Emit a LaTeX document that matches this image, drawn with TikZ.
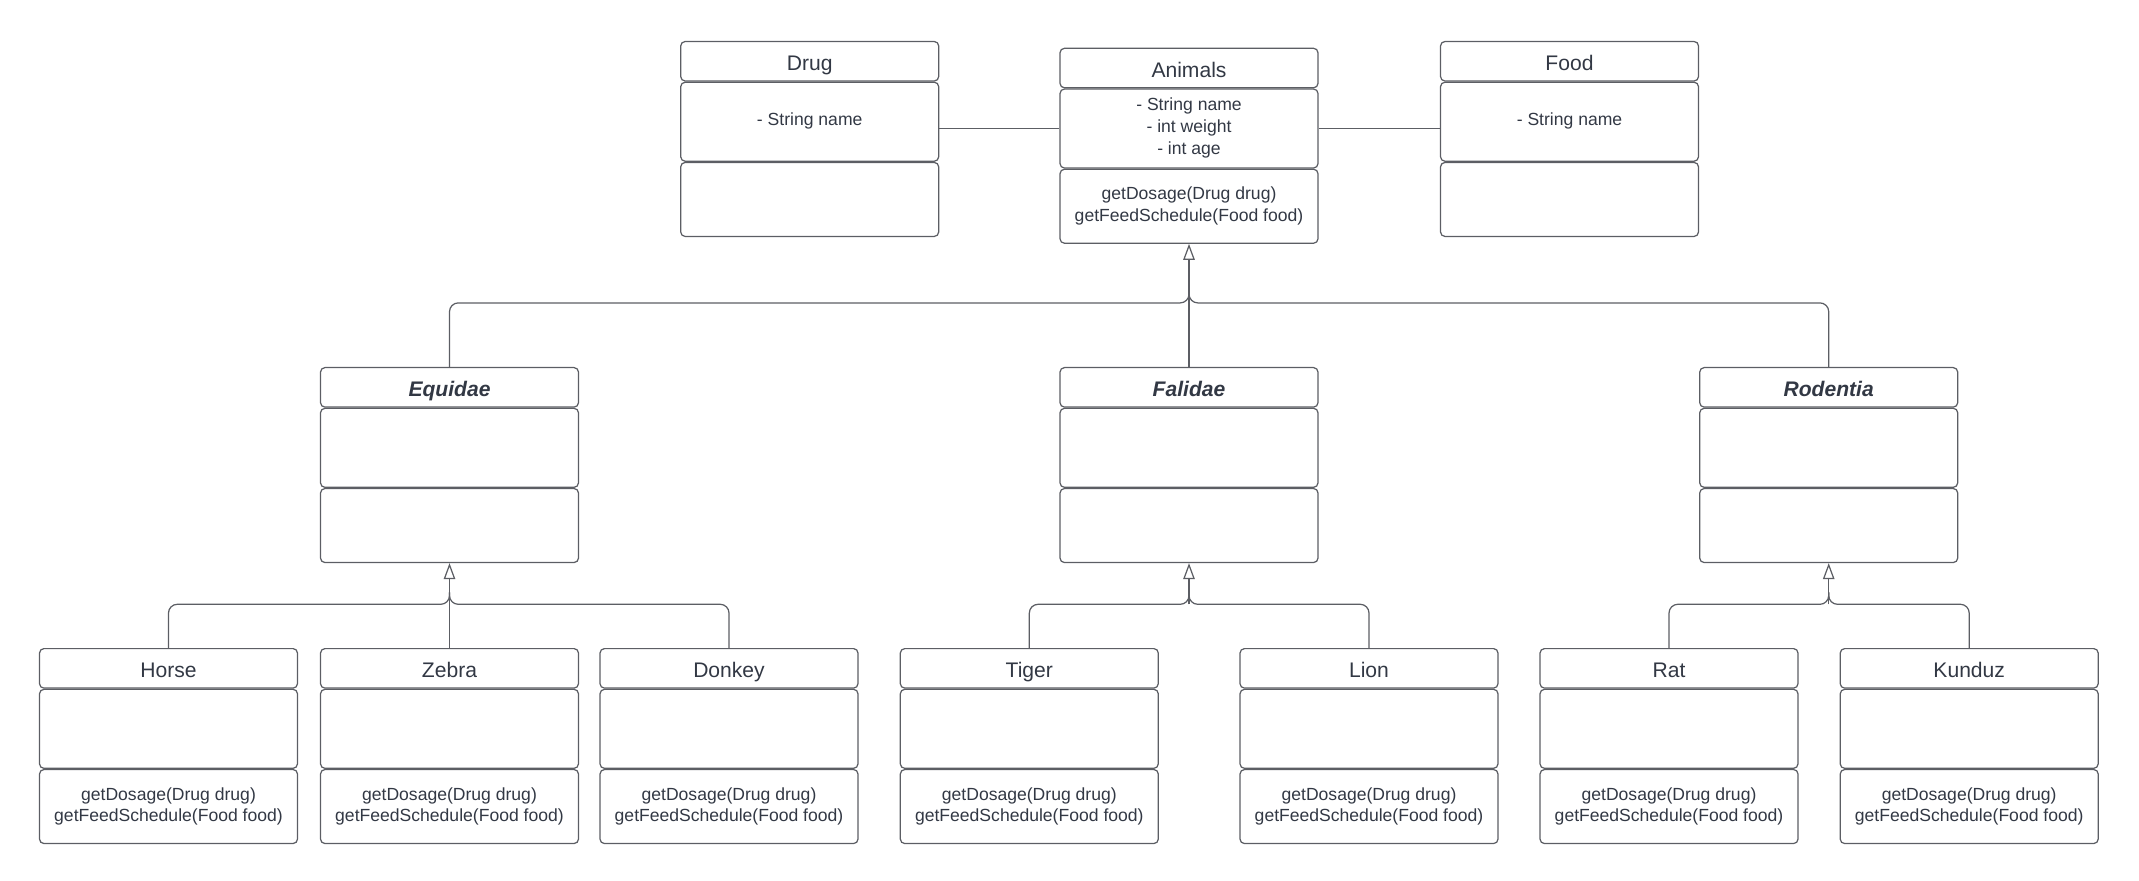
\documentclass[tikz,border=0pt]{standalone}
\usepackage{fontspec}
\setmainfont{Liberation Sans}
\usetikzlibrary{positioning,arrows.meta}
\definecolor{UMLLine}{RGB}{92,94,100}
\definecolor{UMLText}{RGB}{50,56,68}

\begin{document}
\begin{tikzpicture}[x=0.02cm,y=-0.02cm,
  part/.style={draw=UMLLine,line width=0.7pt,rounded corners=2.5pt,
    minimum width=5.16cm,inner sep=0pt,align=center,text=UMLText,
    font=\fontsize{10}{12.4}\selectfont},
  classtitle/.style={part,minimum height=0.79cm,text height=11pt,text depth=0.8pt,
    font=\fontsize{12}{14}\selectfont},
  abstracttitle/.style={classtitle,font=\fontsize{12}{14}\selectfont\bfseries\itshape},
  fields/.style={part,minimum height=1.58cm},
  methods/.style={part,minimum height=1.48cm},
  link/.style={draw=UMLLine,line width=0.7pt},
  branch/.style={link,rounded corners=5pt},
  inherits/.style={link,-{Triangle[open,length=0.32cm,width=0.23cm]}}]
  % Class box: header, attribute part and method part stacked below it.
  \newcommand{\umlclass}[6][classtitle]{%
    \node[#1,anchor=north] (#2) at #3 {#4};
    \node[fields,below=0pt of #2] (#2-f) {#5};
    \node[methods,below=0pt of #2-f] (#2-m) {#6};
  }
  \newcommand{\ops}{getDosage(Drug drug)\\getFeedSchedule(Food food)}
  \useasboundingbox (0,0) rectangle (2139,881);

  \umlclass{drug}{(809.7,40.9)}{Drug}{- String name\\[-9pt]}{}
  \umlclass{animals}{(1189,47.7)}{Animals}{- String name\\- int weight\\- int age\\[-10pt]}{\ops}
  \umlclass{food}{(1569.5,40.9)}{Food}{- String name\\[-9pt]}{}

  \umlclass[abstracttitle]{equidae}{(449.5,367)}{Equidae}{}{}
  \umlclass[abstracttitle]{falidae}{(1189,367)}{Falidae}{}{}
  \umlclass[abstracttitle]{rodentia}{(1828.7,367)}{Rodentia}{}{}

  \foreach \id/\x/\lab in {horse/168.5/Horse,zebra/449.5/Zebra,donkey/729/Donkey,
      tiger/1029.3/Tiger,lion/1369/Lion,rat/1669/Rat,kunduz/1969.2/Kunduz} {
    \umlclass{\id}{(\x,648)}{\lab}{}{\ops}
  }

  % associations
  \draw[link] (animals-f.west) -- (drug-f.east |- animals-f.west);
  \draw[link] (animals-f.east) -- (food-f.west |- animals-f.east);

  % generalisations
  \coordinate (topfork) at (1189,302.9);
  \coordinate (equifork) at (449.5,604.3);
  \coordinate (felifork) at (1189,604.3);
  \coordinate (rodfork) at (1828.7,604.3);
  \foreach \kid/\fork in {equidae/topfork,rodentia/topfork,horse/equifork,
      donkey/equifork,tiger/felifork,lion/felifork,rat/rodfork,kunduz/rodfork} {
    \draw[branch] (\kid.north) |- (\fork) -- ++(0,-12);
  }
  \draw[inherits] (falidae.north) -- (animals-m.south);
  \draw[inherits] (zebra.north) -- (equidae-m.south);
  \draw[inherits] (felifork) -- (falidae-m.south);
  \draw[inherits] (rodfork) -- (rodentia-m.south);
\end{tikzpicture}
\end{document}
